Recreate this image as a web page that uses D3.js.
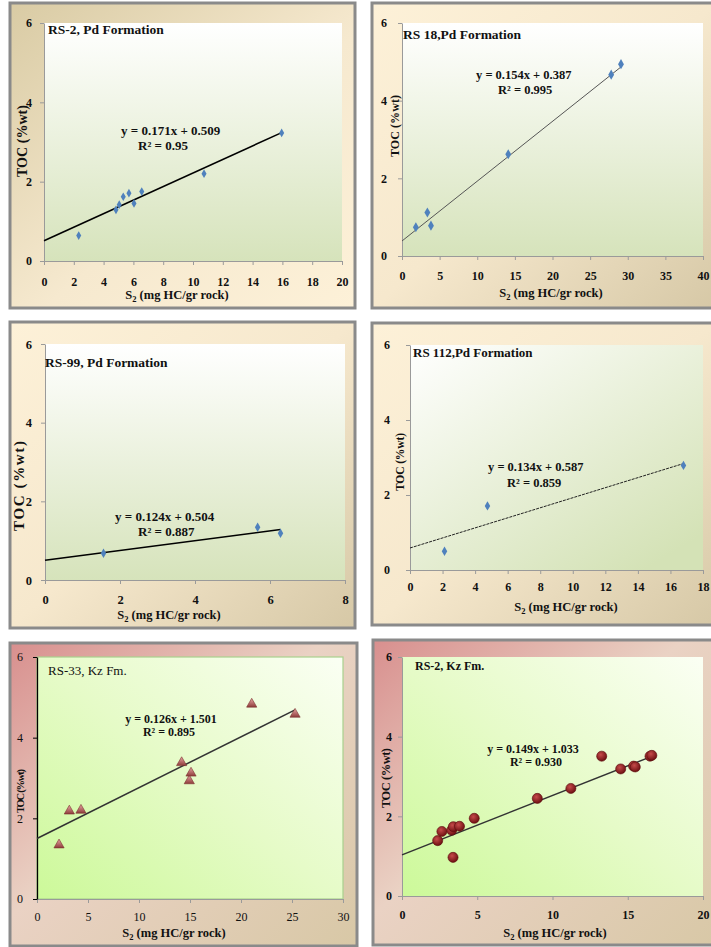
<!DOCTYPE html>
<html>
<head>
<meta charset="utf-8">
<script src="https://cdn.jsdelivr.net/npm/d3@7"></script>
<style>
  html, body { margin: 0; padding: 0; background: #ffffff; }
  svg { display: block; }
  text { font-family: "Liberation Serif", "Times New Roman", serif; }
</style>
</head>
<body>
<svg id="chart" width="711" height="947"></svg>
<script>
// ---- data: S2 (mg HC/gr rock) vs TOC (%wt) per well ----
const rs2PdS2   = [2.33, 4.83, 5.05, 5.32, 5.70, 6.04, 6.56, 10.74, 15.95];
const rs2PdToc  = [0.64, 1.29, 1.42, 1.62, 1.71, 1.45, 1.75, 2.20, 3.23];
const rs2PdFit  = [0.171, 0.509, 0.95];

const rs18PdS2  = [1.84, 3.37, 3.85, 14.12, 27.8, 29.1];
const rs18PdToc = [0.74, 1.12, 0.78, 2.62, 4.67, 4.94];
const rs18PdFit = [0.154, 0.387, 0.995];

const rs99PdS2  = [1.56, 5.67, 6.28];
const rs99PdToc = [0.68, 1.34, 1.19];
const rs99PdFit = [0.124, 0.504, 0.887];

const rs112PdS2  = [2.12, 4.76, 16.8];
const rs112PdToc = [0.50, 1.71, 2.79];
const rs112PdFit = [0.134, 0.587, 0.859];

const rs33KzS2  = [2.16, 3.17, 4.31, 14.18, 14.93, 15.1, 21.05, 25.3];
const rs33KzToc = [1.34, 2.18, 2.20, 3.38, 2.93, 3.12, 4.83, 4.58];
const rs33KzFit = [0.126, 1.501, 0.895];

const rs2KzS2  = [2.37, 2.65, 3.30, 3.41, 3.82, 3.39, 4.80, 8.99, 11.22, 13.27, 14.53, 15.39, 15.5, 16.48, 16.6];
const rs2KzToc = [1.39, 1.62, 1.65, 1.74, 1.75, 0.97, 1.95, 2.45, 2.70, 3.51, 3.19, 3.26, 3.24, 3.51, 3.53];
const rs2KzFit = [0.149, 1.033, 0.930];

// ---- axis tick labels ----
const yTicks      = [0, 2, 4, 6];
const xTicksRs2   = [0, 2, 4, 6, 8, 10, 12, 14, 16, 18, 20];
const xTicksRs18  = [0, 5, 10, 15, 20, 25, 30, 35, 40];
const xTicksRs99  = [0, 2, 4, 6, 8];
const xTicksRs112 = [0, 2, 4, 6, 8, 10, 12, 14, 16, 18];
const xTicksRs33  = [0, 5, 10, 15, 20, 25, 30];
const xTicksRs2Kz = [0, 5, 10, 15, 20];

const titles = ["RS-2, Pd Formation", "RS 18,Pd Formation", "RS-99, Pd Formation",
                "RS 112,Pd Formation", "RS-33, Kz Fm.", "RS-2, Kz Fm."];

const svg = d3.select("#chart");
const defs = svg.append("defs");

function linGrad(id, stops, x1, y1, x2, y2) {
  const g = defs.append("linearGradient").attr("id", id)
    .attr("x1", x1).attr("y1", y1).attr("x2", x2).attr("y2", y2);
  stops.forEach(([o, c]) => g.append("stop").attr("offset", o).attr("stop-color", c));
}
linGrad("frameTan", [[0, "#d9cba4"], [0.55, "#f6e9cf"], [1, "#fdf1d8"]], 0, 0, 1, 1);
linGrad("frameCream", [[0, "#fdf1d8"], [0.5, "#f6e8cd"], [1, "#d6c8a6"]], 0, 0, 1, 1);
linGrad("framePink", [[0, "#d88f8e"], [0.45, "#ead2c4"], [1, "#d8c8a6"]], 0, 0, 1, 1);
linGrad("plotGreenV", [[0, "#ffffff"], [1, "#d6e3bb"]], 0, 0, 0, 1);
linGrad("plotGreenD", [[0, "#ffffff"], [1, "#d4e2b6"]], 0, 0, 0.8, 1);
linGrad("plotLime", [[0, "#fbfff4"], [0.5, "#e6fbc8"], [1, "#ccf999"]], 1, 0, 0, 1);
const rg = defs.append("radialGradient").attr("id", "ball").attr("cx", 0.4).attr("cy", 0.35).attr("r", 0.65);
rg.append("stop").attr("offset", 0).attr("stop-color", "#c64a4a");
rg.append("stop").attr("offset", 1).attr("stop-color", "#6e0f12");
const tg = defs.append("linearGradient").attr("id", "tri").attr("x1", 0).attr("y1", 0).attr("x2", 0).attr("y2", 1);
tg.append("stop").attr("offset", 0).attr("stop-color", "#e9a7a5");
tg.append("stop").attr("offset", 1).attr("stop-color", "#8e3b3a");

const panels = [
  { frame: [10, 3, 345, 305], fill: "url(#frameTan)", plot: [44, 23, 342, 261], plotFill: "url(#plotGreenV)",
    xs: rs2PdS2, ys: rs2PdToc, fit: rs2PdFit, xMax: 20, xTicks: xTicksRs2, title: titles[0], titleXY: [48, 34],
    eq: { x: 121, y: 135, r2x: 138, r2y: 150, anchor: "start", fs: 13 }, line: { w: 1.6, c: "#000" },
    marker: "diamond", mSize: 22, yPad: 8, xLabOff: 25, xTitleOff: 38, xTitleX: 177,
    yTitle: [22, 141, 14, 72], fs: 12, titleFs: 13.5 },
  { frame: [372, 3, 345, 305], fill: "url(#frameCream)", plot: [402, 23, 703, 256], plotFill: "url(#plotGreenV)",
    xs: rs18PdS2, ys: rs18PdToc, fit: rs18PdFit, xMax: 40, xTicks: xTicksRs18, title: titles[1], titleXY: [403, 39],
    eq: { x: 476, y: 79, r2x: 498, r2y: 94, anchor: "start", fs: 12.5 }, line: { w: 1, c: "#555" },
    marker: "diamond", mSize: 30, yPad: 11, xLabOff: 24, xTitleOff: 41, xTitleX: 551,
    yTitle: [395, 126, 12, 62], fs: 12, titleFs: 13.5 },
  { frame: [10, 322, 345, 306], fill: "url(#frameCream)", plot: [45, 344, 345, 580], plotFill: "url(#plotGreenV)",
    xs: rs99PdS2, ys: rs99PdToc, fit: rs99PdFit, xMax: 8, xTicks: xTicksRs99, title: titles[2], titleXY: [45, 367],
    eq: { x: 115, y: 521, r2x: 138, r2y: 536, anchor: "start", fs: 13 }, line: { w: 1.6, c: "#000" },
    marker: "diamond", mSize: 26, yPad: 9, xLabOff: 24, xTitleOff: 39, xTitleX: 169,
    yTitle: [19, 486, 15, 90], fs: 12.5, titleFs: 13.5 },
  { frame: [372, 323, 345, 302], fill: "url(#frameCream)", plot: [410, 345, 703, 570], plotFill: "url(#plotGreenD)",
    xs: rs112PdS2, ys: rs112PdToc, fit: rs112PdFit, xMax: 18, xTicks: xTicksRs112, title: titles[3], titleXY: [413, 357],
    eq: { x: 488, y: 471, r2x: 507, r2y: 487, anchor: "start", fs: 12.5 }, line: { w: 1, c: "#222", dash: "3,1" },
    marker: "diamond", mSize: 26, yPad: 16, xLabOff: 21, xTitleOff: 41, xTitleX: 566,
    yTitle: [400, 462, 11.5, 58], fs: 12, titleFs: 13 },
  { frame: [10, 643, 347, 303], fill: "url(#framePink)", plot: [37, 657, 343, 899], plotFill: "url(#plotLime)",
    xs: rs33KzS2, ys: rs33KzToc, fit: rs33KzFit, xMax: 30, xTicks: xTicksRs33, title: titles[4], titleXY: [48, 675],
    eq: { x: 171, y: 723, r2x: 169, r2y: 736, anchor: "middle", fs: 12 }, line: { w: 1.5, c: "#333" },
    marker: "triangle", mSize: 45, yPad: 10, xLabOff: 22, xTitleOff: 38, xTitleX: 174,
    yTitle: [20, 791, 10.5, 44], fs: 12, tickWeight: "normal",
    plotStroke: "#a9d18e", yAxisColor: "#000", titleFs: 13, titleWeight: "normal" },
  { frame: [373, 640, 345, 305], fill: "url(#framePink)", plot: [402, 657, 703, 896], plotFill: "url(#plotLime)",
    xs: rs2KzS2, ys: rs2KzToc, fit: rs2KzFit, xMax: 20, xTicks: xTicksRs2Kz, title: titles[5], titleXY: [415, 670],
    eq: { x: 533, y: 753, r2x: 536, r2y: 766, anchor: "middle", fs: 12 }, line: { w: 1.5, c: "#333" },
    marker: "circle", mSize: 80, yPad: 6, xLabOff: 23, xTitleOff: 41, xTitleX: 555,
    yTitle: [386, 778, 12.5, 60], fs: 12, titleFs: 12 }
];

panels.forEach(drawPanel);

function drawPanel(p) {
  const g = svg.append("g");
  const [fx, fy, fw, fh] = p.frame;
  g.append("rect").attr("x", fx).attr("y", fy).attr("width", fw).attr("height", fh)
    .attr("fill", p.fill).attr("stroke", "#8a8a8a").attr("stroke-width", 3);

  const [x0, y0, x1, y1] = p.plot;
  const x = d3.scaleLinear().domain([0, p.xMax]).range([x0, x1]);
  const y = d3.scaleLinear().domain([0, 6]).range([y1, y0]);

  g.append("rect").attr("x", x0).attr("y", y0).attr("width", x1 - x0).attr("height", y1 - y0)
    .attr("fill", p.plotFill).attr("stroke", p.plotStroke || "none").attr("stroke-width", 1.2);

  // axes
  const axisColor = "#9a9a9a";
  const xPad = p.xLabOff - 4 - 0.71 * p.fs;
  const xAxis = g.append("g").attr("transform", `translate(0,${y1})`)
    .call(d3.axisBottom(x).tickValues(p.xTicks).tickFormat(d3.format("d"))
      .tickSize(4).tickSizeOuter(0).tickPadding(xPad));
  const yAxis = g.append("g").attr("transform", `translate(${x0},0)`)
    .call(d3.axisLeft(y).tickValues(yTicks).tickFormat(d3.format("d"))
      .tickSize(4).tickSizeOuter(0).tickPadding(p.yPad));
  [xAxis, yAxis].forEach(a => {
    a.selectAll("path").attr("stroke", axisColor).attr("stroke-width", 1);
    a.selectAll("line").attr("stroke", axisColor);
    a.selectAll("text").attr("font-family", "Liberation Serif").attr("font-weight", p.tickWeight || "bold")
      .attr("font-size", p.fs).attr("fill", "#111");
  });
  if (p.yAxisColor) {
    yAxis.selectAll("path").attr("stroke", p.yAxisColor).attr("stroke-width", 1.3);
    yAxis.selectAll("line").attr("stroke", p.yAxisColor);
  }

  // trend line from the stated fit
  const [slope, icpt, r2] = p.fit;
  const xEnd = d3.max(p.xs);
  g.append("line")
    .attr("x1", x(0)).attr("y1", y(icpt))
    .attr("x2", x(xEnd)).attr("y2", y(slope * xEnd + icpt))
    .attr("stroke", p.line.c).attr("stroke-width", p.line.w)
    .attr("stroke-dasharray", p.line.dash || null);

  // points
  const pts = p.xs.map((v, i) => [v, p.ys[i]]);
  const sel = g.append("g").selectAll("path").data(pts).join("path")
    .attr("transform", d => `translate(${x(d[0])},${y(d[1])})`);
  if (p.marker === "diamond") {
    sel.attr("d", d3.symbol(d3.symbolDiamond, p.mSize)).attr("fill", "#4f81bd");
  } else if (p.marker === "triangle") {
    sel.attr("d", d3.symbol(d3.symbolTriangle, p.mSize)).attr("fill", "url(#tri)")
      .attr("stroke", "#7a2f2e").attr("stroke-width", 0.6);
  } else {
    sel.attr("d", d3.symbol(d3.symbolCircle, p.mSize)).attr("fill", "url(#ball)")
      .attr("stroke", "#5a0a0c").attr("stroke-width", 0.6);
  }

  // title
  g.append("text").attr("x", p.titleXY[0]).attr("y", p.titleXY[1])
    .attr("font-size", p.titleFs).attr("font-weight", p.titleWeight || "bold")
    .attr("fill", "#111").text(p.title);

  // regression label
  const eqText = `y = ${slope.toFixed(3)}x + ${icpt.toFixed(3)}`;
  const r2Text = `R² = ${p.fit === rs2PdFit ? r2.toFixed(2) : r2.toFixed(3)}`;
  g.append("text").attr("x", p.eq.x).attr("y", p.eq.y).attr("text-anchor", p.eq.anchor)
    .attr("font-size", p.eq.fs).attr("font-weight", "bold").attr("fill", "#111").text(eqText);
  g.append("text").attr("x", p.eq.r2x).attr("y", p.eq.r2y).attr("text-anchor", p.eq.anchor)
    .attr("font-size", p.eq.fs).attr("font-weight", "bold").attr("fill", "#111").text(r2Text);

  // axis titles
  const xt = g.append("text").attr("x", p.xTitleX).attr("y", y1 + p.xTitleOff)
    .attr("text-anchor", "middle").attr("font-size", 12.5).attr("font-weight", "bold").attr("fill", "#111");
  xt.append("tspan").text("S");
  xt.append("tspan").attr("font-size", 8.5).attr("dy", 3).text("2");
  xt.append("tspan").attr("dy", -3).text(" (mg HC/gr rock)");

  const [tx, ty, tfs, tlen] = p.yTitle;
  g.append("text")
    .attr("transform", `translate(${tx},${ty}) rotate(-90)`)
    .attr("text-anchor", "middle").attr("dy", "0.35em")
    .attr("font-size", tfs).attr("font-weight", "bold").attr("fill", "#111")
    .attr("textLength", tlen).attr("lengthAdjust", "spacing")
    .text("TOC (%wt)");
}
</script>
</body>
</html>
